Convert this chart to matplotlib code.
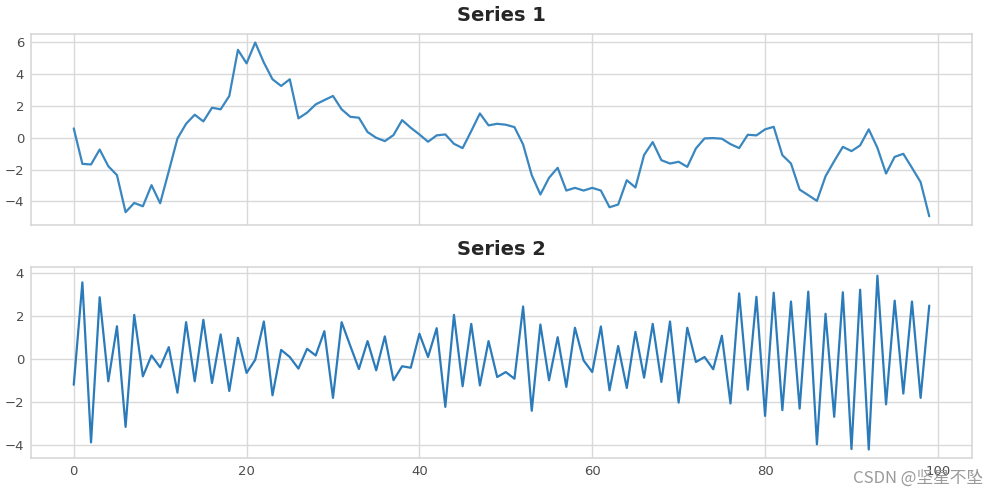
import matplotlib
matplotlib.use("Agg")
import matplotlib.pyplot as plt
import numpy as np

x_values = list(range(100))

series1 = [0.59, -1.64, -1.68, -0.74, -1.79, -2.35, -4.68, -4.10, -4.31, -2.98,
           -4.12, -2.10, -0.05, 0.88, 1.45, 1.03, 1.89, 1.79, 2.63, 5.53,
           4.68, 5.99, 4.73, 3.68, 3.26, 3.68, 1.22, 1.58, 2.10, 2.37,
           2.63, 1.79, 1.32, 1.26, 0.36, 0.00, -0.21, 0.17, 1.11, 0.63,
           0.21, -0.25, 0.15, 0.21, -0.38, -0.65, 0.42, 1.53, 0.78, 0.88,
           0.82, 0.67, -0.42, -2.35, -3.57, -2.52, -1.89, -3.32, -3.15, -3.32,
           -3.15, -3.32, -4.37, -4.20, -2.67, -3.13, -1.08, -0.27, -1.41, -1.62,
           -1.51, -1.83, -0.67, -0.04, -0.02, -0.06, -0.40, -0.65, 0.19, 0.15,
           0.53, 0.69, -1.09, -1.62, -3.26, -3.61, -3.97, -2.42, -1.47, -0.57,
           -0.84, -0.48, 0.53, -0.63, -2.25, -1.20, -1.01, -1.89, -2.79, -4.94]

series2 = [-1.21, 3.55, -3.89, 2.86, -1.05, 1.51, -3.17, 2.04, -0.82, 0.15,
           -0.40, 0.54, -1.58, 1.70, -1.05, 1.81, -1.13, 1.13, -1.50, 0.97,
           -0.66, -0.05, 1.73, -1.70, 0.41, 0.08, -0.46, 0.46, 0.15, 1.28,
           -1.82, 1.70, 0.60, -0.48, 0.82, -0.54, 1.04, -1.00, -0.35, -0.42,
           1.16, 0.08, 1.42, -2.24, 2.04, -1.28, 1.62, -1.24, 0.82, -0.85,
           -0.62, -0.93, 2.43, -2.42, 1.59, -1.00, 1.00, -1.31, 1.44, -0.08,
           -0.62, 1.50, -1.47, 0.59, -1.36, 1.25, -0.88, 1.62, -1.08, 1.73,
           -2.04, 1.44, -0.15, 0.08, -0.49, 1.07, -2.08, 3.04, -1.44, 2.88,
           -2.66, 3.07, -2.39, 2.66, -2.32, 3.12, -3.98, 2.09, -2.70, 3.09,
           -4.20, 3.21, -4.22, 3.86, -2.12, 2.70, -1.62, 2.66, -1.82, 2.47]

titles = ["Series 1", "Series 2"]

plt.style.use("seaborn-v0_8-whitegrid")
plt.rcParams['font.family'] = ['DejaVu Sans', 'Noto Sans CJK SC']

fig, axes = plt.subplots(2, 1, sharex=True, figsize=(9.99, 4.98), dpi=100)
fig.subplots_adjust(left=0.031, right=0.973, top=0.932, bottom=0.080, hspace=0.22)

colors = ["#3a87c0", "#2b7bba"]
for ax, data, title, c in zip(axes, [series1, series2], titles, colors):
    ax.plot(x_values, data, color=c, linewidth=1.6)
    ax.set_title(title, fontsize=14, fontweight="bold", color="#262626", pad=9)
    ax.tick_params(labelsize=9.5, colors="#4d4d4d", length=0, pad=5)
    for s in ax.spines.values():
        s.set_edgecolor("#d5d5d5")
        s.set_linewidth(1.1)
    ax.grid(True, color="#d9d9d9", linewidth=1.0)

fig.text(0.984, 0.022, "CSDN @坚星不坠", ha="right", va="bottom", fontsize=12,
         color="#9a9a9a", family=['Noto Sans CJK SC', 'DejaVu Sans'])

fig.savefig("out.png", dpi=100)
